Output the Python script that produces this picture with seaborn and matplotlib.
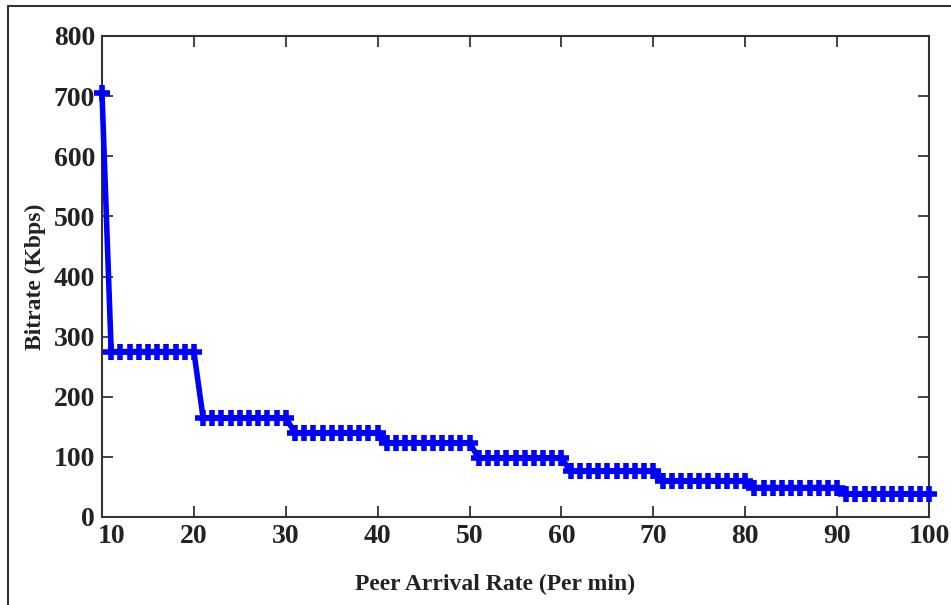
import numpy as np
import pandas as pd
import matplotlib
matplotlib.use("Agg")
import matplotlib.pyplot as plt
from matplotlib.lines import Line2D
import matplotlib.transforms as mtransforms
import seaborn as sns

# step values: one value per block of arrival rates
block_starts = [10, 11, 21, 31, 41, 51, 61, 71, 81, 91]
block_ends = [10, 20, 30, 40, 50, 60, 70, 80, 90, 100]
block_bitrate = [705, 275, 165, 140, 123, 98, 76, 60, 49, 38]

x_ticks = [10, 20, 30, 40, 50, 60, 70, 80, 90, 100]
y_ticks = [0, 100, 200, 300, 400, 500, 600, 700, 800]

rate, bitrate = [], []
for s, e, b in zip(block_starts, block_ends, block_bitrate):
    for r in range(s, e + 1):
        rate.append(r)
        bitrate.append(b)
df = pd.DataFrame({"rate": rate, "bitrate": bitrate})

sns.set_style("ticks")
plt.rcParams["font.family"] = ["Liberation Serif", "DejaVu Serif"]
plt.rcParams["font.weight"] = "bold"

fig = plt.figure(figsize=(9.51, 6.05), dpi=100)
ax = fig.add_axes([102 / 951, 1 - 517 / 605, (929 - 102) / 951, (517 - 36) / 605])

sns.lineplot(data=df, x="rate", y="bitrate", ax=ax, color="#0000ff",
             linewidth=4, marker="+", markersize=11, markeredgewidth=4,
             markeredgecolor="#0000ff", clip_on=False, zorder=5)

ax.set_xlim(10, 100)
ax.set_ylim(0, 800)
ax.set_xticks(x_ticks)
ax.set_yticks(y_ticks)
ax.tick_params(direction="in", length=8, width=1.2, top=True, right=True,
               labelsize=20, colors="#222222", pad=5)
for lab in ax.get_xticklabels() + ax.get_yticklabels():
    lab.set_fontweight("bold")
for sp in ax.spines.values():
    sp.set_visible(True)
    sp.set_linewidth(1.5)
    sp.set_color("#333333")

# nudge the "10" label right so it clears the "0"
first = ax.get_xticklabels()[0]
first.set_transform(first.get_transform() +
                    mtransforms.ScaledTranslation(10 / 100, 0, fig.dpi_scale_trans))

ax.set_xlabel("Peer Arrival Rate (Per min)", fontsize=17, fontweight="bold",
              color="#222222")
ax.set_ylabel("Bitrate (Kbps)", fontsize=17, fontweight="bold",
              color="#222222")
ax.xaxis.set_label_coords(0.475, -0.118)
ax.yaxis.set_label_coords(-0.068, 0.5)

# outer frame of the figure (left and top edges visible)
fig.add_artist(Line2D([8 / 951, 8 / 951], [0, 1 - 6 / 605], transform=fig.transFigure,
                      color="#333333", linewidth=1.5))
fig.add_artist(Line2D([8 / 951, 1], [1 - 6 / 605, 1 - 6 / 605], transform=fig.transFigure,
                      color="#333333", linewidth=1.5))

fig.savefig("out.png", dpi=100)
